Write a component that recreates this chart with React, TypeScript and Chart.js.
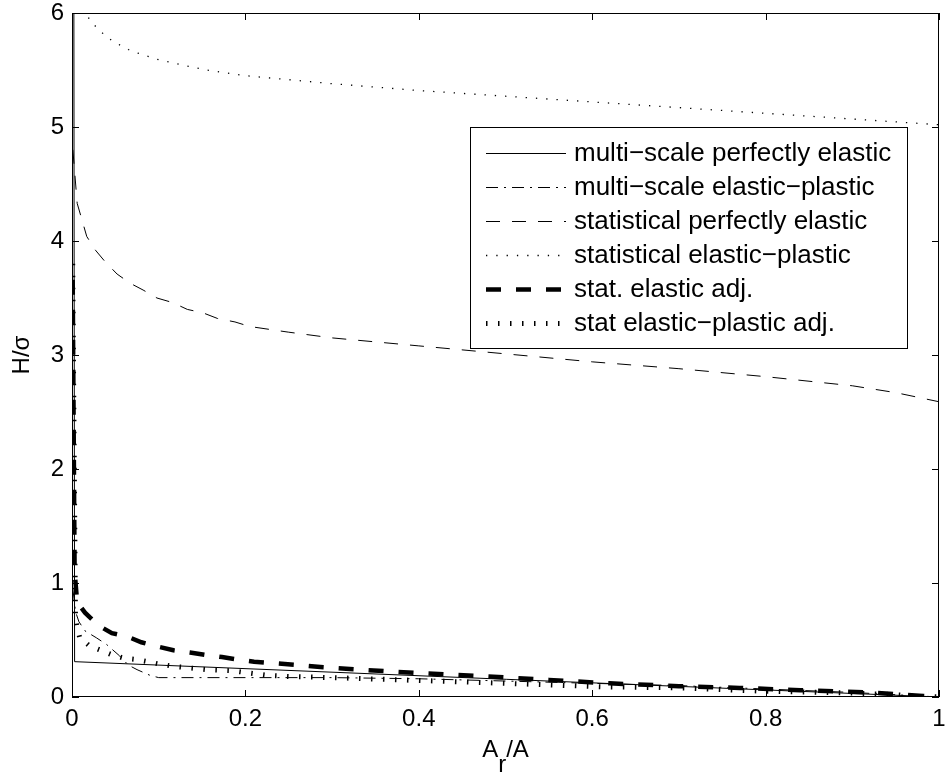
import React, { useEffect, useRef } from "react";
import { Chart, registerables } from "chart.js";

Chart.register(...registerables);

// ---- data ----
const xTicks = [0, 0.2, 0.4, 0.6, 0.8, 1];
const yTicks = [0, 1, 2, 3, 4, 5, 6];

const seriesLabels = [
  "multi\u2212scale perfectly elastic",
  "multi\u2212scale elastic\u2212plastic",
  "statistical perfectly elastic",
  "statistical elastic\u2212plastic",
  "stat. elastic adj.",
  "stat elastic\u2212plastic adj.",
];

const msPerfElasticX = [0.002, 0.003, 1.0];
const msPerfElasticY = [7.0, 0.31, 0.0];

const msElasticPlasticX = [0.001, 0.004, 0.008, 0.015, 0.028, 0.04, 0.055, 0.065, 0.075, 0.09, 0.1, 0.2, 0.3, 0.4, 0.5, 0.6, 0.7, 0.8, 0.9, 1.0];
const msElasticPlasticY = [0.95, 0.75, 0.66, 0.58, 0.52, 0.46, 0.36, 0.28, 0.24, 0.19, 0.17, 0.17, 0.17, 0.16, 0.14, 0.12, 0.1, 0.07, 0.04, 0.0];

const statPerfElasticX = [0.001, 0.006, 0.017, 0.027, 0.038, 0.052, 0.067, 0.082, 0.098, 0.116, 0.133, 0.151, 0.168, 0.188, 0.205, 0.25, 0.3, 0.4, 0.5, 0.6, 0.7, 0.8, 0.9, 0.95, 1.0];
const statPerfElasticY = [4.8, 4.33, 4.04, 3.92, 3.82, 3.71, 3.63, 3.57, 3.5, 3.46, 3.4, 3.37, 3.32, 3.29, 3.25, 3.2, 3.15, 3.08, 3.01, 2.94, 2.88, 2.81, 2.73, 2.67, 2.59];

const statElasticPlasticX = [0.003, 0.02, 0.03, 0.04, 0.05, 0.065, 0.075, 0.1, 0.13, 0.155, 0.2, 0.3, 0.4, 0.5, 0.6, 0.7, 0.8, 0.9, 1.0];
const statElasticPlasticY = [6.3, 5.94, 5.86, 5.79, 5.74, 5.68, 5.65, 5.59, 5.54, 5.5, 5.45, 5.38, 5.32, 5.27, 5.22, 5.17, 5.12, 5.07, 5.02];

const statElasticAdjX = [0.0008, 0.003, 0.006, 0.015, 0.03, 0.046, 0.064, 0.08, 0.1, 0.117, 0.136, 0.153, 0.173, 0.19, 0.21, 0.26, 0.29, 0.33, 0.4, 0.48, 0.55, 0.62, 0.7, 0.77, 0.84, 0.92, 0.96, 1.0];
const statElasticAdjY = [3.66, 1.1, 0.83, 0.74, 0.63, 0.56, 0.53, 0.48, 0.44, 0.41, 0.39, 0.37, 0.35, 0.33, 0.31, 0.28, 0.26, 0.24, 0.21, 0.18, 0.15, 0.12, 0.095, 0.08, 0.06, 0.04, 0.02, 0.0];

const statEPAdjX = [0.0008, 0.004, 0.006, 0.009, 0.02, 0.033, 0.046, 0.06, 0.073, 0.087, 0.1, 0.116, 0.155, 0.185, 0.225, 0.25, 0.3, 0.38, 0.5, 0.61, 0.7, 0.8, 0.9, 0.95, 1.0];
const statEPAdjY = [3.8, 0.7, 0.6, 0.52, 0.45, 0.41, 0.37, 0.34, 0.33, 0.31, 0.29, 0.27, 0.24, 0.23, 0.19, 0.18, 0.17, 0.15, 0.12, 0.09, 0.08, 0.05, 0.035, 0.02, 0.0];

const FONT = "'Liberation Sans', Arial, sans-serif";

function pts(xs: number[], ys: number[]) {
  return xs.map((x, i) => ({ x, y: ys[i] }));
}

const framePlugin = {
  id: "matlabFrame",
  afterDatasetsDraw(chart: any) {
    const { ctx, chartArea } = chart;
    const { left, right, top, bottom } = chartArea;
    const xs = chart.scales.x;
    const ys = chart.scales.y;
    ctx.save();
    ctx.strokeStyle = "#000";
    ctx.lineWidth = 1;
    ctx.setLineDash([]);
    ctx.strokeRect(left + 0.5, top + 0.5, right - left - 1, bottom - top - 1);
    const tl = 7;
    ctx.beginPath();
    xTicks.forEach((v) => {
      const px = Math.round(xs.getPixelForValue(v)) + 0.5;
      ctx.moveTo(px, bottom);
      ctx.lineTo(px, bottom - tl);
      ctx.moveTo(px, top);
      ctx.lineTo(px, top + tl);
    });
    yTicks.forEach((v) => {
      const py = Math.round(ys.getPixelForValue(v)) + 0.5;
      ctx.moveTo(left, py);
      ctx.lineTo(left + tl, py);
      ctx.moveTo(right, py);
      ctx.lineTo(right - tl, py);
    });
    ctx.stroke();

    // legend
    const lx = 470, ly = 127, lw = 437, lh = 221;
    ctx.fillStyle = "#fff";
    ctx.fillRect(lx, ly, lw, lh);
    ctx.strokeRect(lx + 0.5, ly + 0.5, lw, lh);
    const rowH = 34;
    chart.data.datasets.forEach((ds: any, i: number) => {
      const y = Math.round(ly + 26 + i * rowH) + 0.5;
      ctx.save();
      ctx.strokeStyle = "#000";
      ctx.lineWidth = ds.borderWidth;
      ctx.lineCap = "butt";
      ctx.setLineDash(ds.borderDash || []);
      ctx.beginPath();
      ctx.moveTo(486, y);
      ctx.lineTo(566, y);
      ctx.stroke();
      ctx.restore();
      ctx.fillStyle = "#000";
      ctx.font = "26px " + FONT;
      ctx.textBaseline = "middle";
      ctx.textAlign = "left";
      ctx.fillText(ds.label, 574, y);
    });

    // axis titles
    ctx.fillStyle = "#000";
    ctx.font = "24px " + FONT;
    ctx.textBaseline = "alphabetic";
    const cx = (left + right) / 2;
    const wA = ctx.measureText("A").width;
    const wR = ctx.measureText("r").width;
    const wRest = ctx.measureText("/A").width;
    const total = wA + wR + wRest;
    const sx = cx - total / 2;
    ctx.textAlign = "left";
    ctx.fillText("A", sx, 757);
    ctx.fillText("r", sx + wA, 772);
    ctx.fillText("/A", sx + wA + wR, 757);

    ctx.save();
    ctx.translate(29, (top + bottom) / 2);
    ctx.rotate(-Math.PI / 2);
    ctx.textAlign = "center";
    ctx.fillText("H/\u03c3", 0, 0);
    ctx.restore();
    ctx.restore();
  },
};

export default function App() {
  const ref = useRef<HTMLCanvasElement>(null);
  useEffect(() => {
    if (!ref.current) return;
    const common = { pointRadius: 0, borderColor: "#000", backgroundColor: "#000", fill: false, tension: 0, borderCapStyle: "butt" };
    const chart = new Chart(ref.current, {
      type: "line",
      data: {
        datasets: [
          { ...common, label: seriesLabels[0], data: pts(msPerfElasticX, msPerfElasticY), borderWidth: 1, borderDash: [] },
          { ...common, label: seriesLabels[1], data: pts(msElasticPlasticX, msElasticPlasticY), borderWidth: 1, borderDash: [12, 6, 2, 6] },
          { ...common, label: seriesLabels[2], data: pts(statPerfElasticX, statPerfElasticY), borderWidth: 1, borderDash: [14, 12] },
          { ...common, label: seriesLabels[3], data: pts(statElasticPlasticX, statElasticPlasticY), borderWidth: 1.3, borderDash: [1.3, 9] },
          { ...common, label: seriesLabels[4], data: pts(statElasticAdjX, statElasticAdjY), borderWidth: 4.5, borderDash: [15, 15] },
          { ...common, label: seriesLabels[5], data: pts(statEPAdjX, statEPAdjY), borderWidth: 5, borderDash: [1.5, 10.5] },
        ] as any,
      },
      options: {
        animation: false,
        responsive: false,
        devicePixelRatio: 1,
        layout: { padding: { top: 13, right: 6, left: 0, bottom: 0 } },
        plugins: { legend: { display: false }, tooltip: { enabled: false } },
        scales: {
          x: {
            type: "linear",
            min: 0,
            max: 1,
            grid: { display: false, drawTicks: false },
            border: { display: false },
            afterBuildTicks: (s: any) => { s.ticks = xTicks.map((v) => ({ value: v })); },
            afterFit: (s: any) => { s.height = 79; s.paddingLeft = 0; s.paddingRight = 0; },
            ticks: {
              color: "#000",
              padding: 8,
              maxRotation: 0,
              font: { family: FONT, size: 24 },
              callback: (v: any) => String(Number(Number(v).toFixed(1))),
            },
          },
          y: {
            type: "linear",
            min: 0,
            max: 6,
            grid: { display: false, drawTicks: false },
            border: { display: false },
            afterBuildTicks: (s: any) => { s.ticks = yTicks.map((v) => ({ value: v })); },
            afterFit: (s: any) => { s.width = 72; s.paddingTop = 0; s.paddingBottom = 0; },
            ticks: {
              color: "#000",
              padding: 8,
              font: { family: FONT, size: 24 },
              callback: (v: any) => String(v),
            },
          },
        },
      } as any,
      plugins: [framePlugin],
    });
    return () => chart.destroy();
  }, []);
  return (
    <div style={{ position: "absolute", left: 0, top: 0, width: 945, height: 776, background: "#fff" }}>
      <canvas ref={ref} width={945} height={776} style={{ width: 945, height: 776, display: "block" }} />
    </div>
  );
}
